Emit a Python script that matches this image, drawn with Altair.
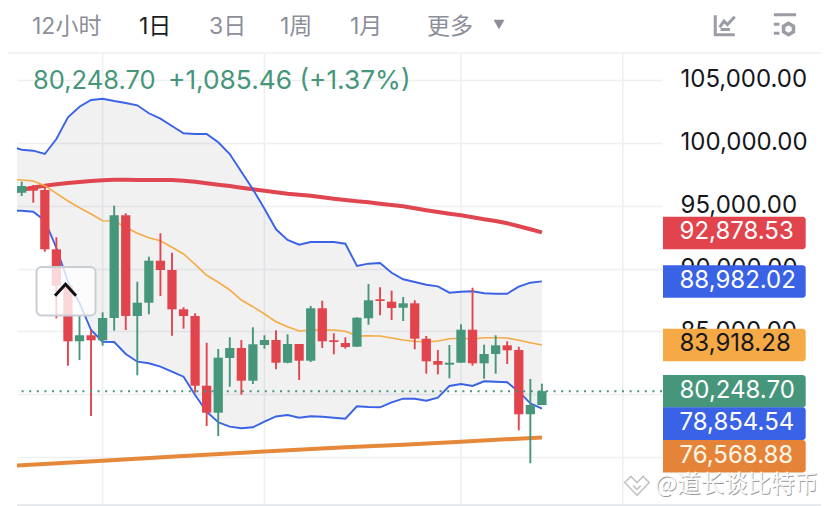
import altair as alt
import pandas as pd

# ---- candles (estimated prices) ----
opens = [96035,96568,96249,91532,88637,84214,84691,84293,86067,94237,86226,87284,90625,89885,86759,86226,80681,78534,82885,83681,81079,83919,84317,82511,83999,82670,86839,84293,84078,83784,86043,87555,87364,86886,87236,84420,82646,82352,82511,85136,82463,83203,83895,83521,78406,79146]
highs = [96910,96647,96512,92487,88692,86250,85112,86521,95001,94396,88955,90944,92805,91262,86918,86441,84102,83601,84532,84317,85327,84691,85089,84770,83999,87022,87443,84850,84532,86123,88772,88509,88239,87738,87475,84635,83521,83919,85566,88477,83943,84691,84214,83784,81215,80841]
lows = [95772,95239,91341,86043,82273,82726,78271,83864,85057,85112,81509,86361,87817,84659,85216,80125,77476,76680,80602,79966,80817,83625,81986,82463,81135,82567,83681,83179,83625,83784,85534,86282,85908,85828,83577,81636,81588,81270,82511,82273,81238,81636,82408,77133,74509,79146]
closes = [96568,96194,91532,88637,84214,84691,84293,86067,94237,86226,87284,90625,89885,86759,86226,80681,78534,82909,83681,81079,83975,84317,82511,83999,82670,86839,84214,84158,83760,86091,87475,87419,86863,87236,84420,82622,82352,82511,85136,82463,83203,83895,83498,78406,79146,80248.70]

# ---- indicator series, index -1 .. 45 ----
upper = [99750,99455,99376,99113,100307,102033,102876,103409,103512,103329,103170,102987,102351,101921,101341,100760,100704,100704,100044,99113,97705,96305,94762,93123,92272,91898,92113,92113,92113,91978,90204,90387,90442,89670,89146,88931,88716,88589,88080,88159,88191,88032,88000,88000,88557,88875,88982.02]
lower = [94579,94603,94523,93807,91636,88955,87260,85112,84182,84158,83203,82591,82463,82193,81795,81398,79942,78613,77770,77420,77293,77372,77818,78231,78351,78136,78247,78215,78136,78056,79043,78987,78963,79361,79647,79647,79488,79727,80658,80817,80658,81032,81000,80952,80204,79281,78854.54]
middle = [97101,97045,96965,96591,95987,95374,94841,94340,93807,93783,93282,92805,92455,92216,91691,91158,90339,89464,88907,88294,87499,86966,86385,85773,85375,85033,85112,85136,85112,85009,84635,84659,84635,84476,84317,84214,84158,84237,84420,84452,84396,84500,84500,84476,84293,84102,83918.28]
ma_red = [96090,96249,96448,96591,96703,96806,96886,96965,97021,97061,97069,97045,97045,97045,97045,96989,96910,96782,96671,96568,96432,96305,96194,96074,95955,95876,95796,95669,95557,95454,95350,95271,95160,95056,94953,94794,94634,94499,94364,94237,94077,93918,93783,93600,93362,93123,92878.53]
ma_orange_idx = [-1,0,7,14,21,28,33,38,45]
ma_orange = [74294,74349,74715,75089,75447,75781,75988,76227,76568.88]

last_price = 80248.70
y_ticks = [75000,80000,85000,90000,95000,100000,105000]
grid_idx = [7,21,38,52]
tabs = ["12小时","1日","3日","1周","1月","更多"]
tag_labels = ["92,878.53","88,982.02","83,918.28","80,248.70","78,854.54","76,568.88"]
headline = ["80,248.70","+1,085.46 (+1.37%)"]
watermark = "@道长谈比特币"

# ---- layout ----
PAD_L, PAD_T = 9, 46
W, H = 645, 451
def px(x): return x - 17
def py(y): return y - 54

GREEN, RED = "#45967a", "#e2444d"
BLUE = "#3a62e6"
GRID = "#eeeff1"
INTER = "Inter, 'Noto Sans CJK SC', sans-serif"
CJK = "'Noto Sans CJK SC', sans-serif"

xs = alt.Scale(domain=[-0.407, 55.39], nice=False, zero=False)
ys = alt.Scale(domain=[71191, 107068], nice=False, zero=False)
yaxis = alt.Axis(
    orient="right", values=y_ticks, title=None, domain=False, ticks=False,
    labelExpr="datum.value < 82000 ? '' : format(datum.value, ',.2f')",
    grid=True, gridColor=GRID, gridWidth=1.5, labelFont=INTER, labelFontSize=24,
    labelColor="#15171c", labelPadding=18, labelAlign="left", labelBaseline="middle",
    labelOverlap=False, labelFlush=False, labelBound=False)
X = lambda f: alt.X(f, type="quantitative", scale=xs, axis=None)
Y = lambda f: alt.Y(f, type="quantitative", scale=ys, axis=yaxis)

n = len(opens)
cd = pd.DataFrame({"i": list(range(n)), "o": opens, "h": highs, "l": lows, "c": closes})
cd["lo"] = cd["i"] - 0.4
cd["hi"] = cd["i"] + 0.4
cd["top"] = cd[["o", "c"]].max(axis=1)
cd["bot"] = cd[["o", "c"]].min(axis=1)
cd["dir"] = ["up" if c >= o else "down" for o, c in zip(opens, closes)]
col = alt.Color("dir:N", scale=alt.Scale(domain=["up", "down"], range=[GREEN, RED]), legend=None)

ln = pd.DataFrame({"i": list(range(-1, n)), "u": upper, "d": lower, "m": middle, "r": ma_red})
mo = pd.DataFrame({"i": ma_orange_idx, "v": ma_orange})
one = pd.DataFrame({"a": [0]})
lastdf = pd.DataFrame({"p": [last_price]})
griddf = pd.DataFrame({"i": grid_idx})

layers = []
layers.append(alt.Chart(griddf).mark_rule(color=GRID, strokeWidth=1.5).encode(x=X("i")))
layers.append(alt.Chart(ln).mark_area(color="#7c7c82", opacity=0.105, clip=True).encode(x=X("i"), y=Y("u"), y2="d:Q"))
layers.append(alt.Chart(mo).mark_line(color="#e5883a", strokeWidth=4, clip=True).encode(x=X("i"), y=Y("v")))
layers.append(alt.Chart(ln).mark_line(color="#e0464f", strokeWidth=4, clip=True).encode(x=X("i"), y=Y("r")))
layers.append(alt.Chart(ln).mark_line(color="#f5ab45", strokeWidth=1.6, clip=True).encode(x=X("i"), y=Y("m")))
layers.append(alt.Chart(ln).mark_line(color=BLUE, strokeWidth=1.9, clip=True).encode(x=X("i"), y=Y("u")))
layers.append(alt.Chart(ln).mark_line(color=BLUE, strokeWidth=1.9, clip=True).encode(x=X("i"), y=Y("d")))
layers.append(alt.Chart(cd).mark_rule(strokeWidth=1.9, clip=True).encode(x=X("i"), y=Y("l"), y2="h:Q", color=col))
layers.append(alt.Chart(cd).mark_rect(clip=True).encode(x=X("lo"), x2="hi:Q", y=Y("bot"), y2="top:Q", color=col))
layers.append(alt.Chart(lastdf).mark_rule(color=GREEN, strokeWidth=2, strokeDash=[2, 5.6]).encode(y=Y("p")))

# collapse button
layers.append(alt.Chart(one).mark_rect(fill="white", fillOpacity=0.78, stroke="#c9cdd4", strokeWidth=2, cornerRadius=5).encode(
    x=alt.value(px(36.5)), x2=alt.value(px(95.5)), y=alt.value(py(267)), y2=alt.value(py(315.5))))
layers.append(alt.Chart(one).mark_point(shape="M-1,0.55L0,-0.55L1,0.55", filled=False, stroke="#111", strokeWidth=3, size=440, opacity=1).encode(
    x=alt.value(px(65.5)), y=alt.value(py(290))))

# price tags
tag_fill = [RED, BLUE, "#f5aa45", GREEN, BLUE, "#e58438"]
tag_text = ["white", "white", "#16181d", "white", "white", "#fff6ea"]
tag_top = [216.7, 265.2, 328.7, 375, 407.3, 440]
for lab, f, t, top in zip(tag_labels, tag_fill, tag_text, tag_top):
    layers.append(alt.Chart(one).mark_rect(fill=f, cornerRadiusTopRight=3, cornerRadiusBottomRight=3).encode(
        x=alt.value(px(663)), x2=alt.value(px(805.7)), y=alt.value(py(top)), y2=alt.value(py(top + 32.6))))
    layers.append(alt.Chart(one).mark_text(text=lab, font=INTER, fontSize=24, color=t, align="left", baseline="middle").encode(
        x=alt.value(px(679.5)), y=alt.value(py(top + 15.5))))

# header
layers.append(alt.Chart(one).mark_rule(color=GRID, strokeWidth=1.5).encode(
    x=alt.value(-9), x2=alt.value(804), y=alt.value(-1)))
tab_x = [32, 139, 209, 280, 350, 427]
for lab, tx in zip(tabs, tab_x):
    active = lab == "1日"
    layers.append(alt.Chart(one).mark_text(text=lab, font=INTER, fontSize=23, color="#1b1d24" if active else "#8c8f9a",
                                           align="left", baseline="middle").encode(x=alt.value(px(tx)), y=alt.value(py(26.5))))
layers.append(alt.Chart(one).mark_point(shape="triangle-down", filled=True, color="#8c8f9a", size=120, opacity=1).encode(
    x=alt.value(px(499)), y=alt.value(py(24.5))))
layers.append(alt.Chart(one).mark_point(shape="M-1,-1V1H1M-0.55,0.25L-0.1,-0.4L0.25,-0.05L1,-0.85M-0.45,0.45H0.5", filled=False, stroke="#9a9ca6",
                                        strokeWidth=3, size=380, opacity=1).encode(x=alt.value(px(725)), y=alt.value(py(25))))
layers.append(alt.Chart(one).mark_point(shape="M-1,-1H1M-1,-0.15H-0.5M-1,0.65H-0.5", filled=False, stroke="#9a9ca6",
                                        strokeWidth=3, size=500, opacity=1).encode(x=alt.value(px(785)), y=alt.value(py(26))))
layers.append(alt.Chart(one).mark_point(shape="M0,-1L0.87,-0.5V0.5L0,1L-0.87,0.5V-0.5Z", filled=False, stroke="#9a9ca6",
                                        strokeWidth=3.5, size=130, opacity=1).encode(x=alt.value(px(788.5)), y=alt.value(py(29))))

# headline
layers.append(alt.Chart(one).mark_text(text=headline[0], font=INTER, fontSize=25.5, color=GREEN, align="left", baseline="middle").encode(
    x=alt.value(px(33)), y=alt.value(py(81))))
layers.append(alt.Chart(one).mark_text(text=headline[1], font=INTER, fontSize=26.3, color=GREEN, align="left", baseline="middle").encode(
    x=alt.value(px(168)), y=alt.value(py(81))))

# watermark
layers.append(alt.Chart(one).mark_text(text=watermark, font=CJK, fontSize=23.5, color="#9a9a9a", align="left", baseline="middle").encode(
    x=alt.value(px(655.8)), y=alt.value(py(485.8))))
layers.append(alt.Chart(one).mark_text(text=watermark, font=CJK, fontSize=23.5, color="#fafafa", align="left", baseline="middle").encode(
    x=alt.value(px(655)), y=alt.value(py(485))))
layers.append(alt.Chart(one).mark_point(shape="M-1,-0.2L-0.5,-0.7L0,-0.2L0.5,-0.7L1,-0.2L0,0.85ZM-0.3,0.05L0,0.35L0.3,0.05", filled=False, stroke="#c4c4c4",
                                        strokeWidth=1.6, size=600, opacity=1).encode(x=alt.value(px(637)), y=alt.value(py(485))))

# bottom edge
layers.append(alt.Chart(one).mark_rule(color="#e4e7ea", strokeWidth=2.5).encode(
    x=alt.value(0), x2=alt.value(804), y=alt.value(py(505.5))))

chart = alt.layer(*layers).resolve_scale(color="independent").properties(
    width=W, height=H,
    autosize=alt.AutoSizeParams(type="none"),
    padding={"left": PAD_L, "top": PAD_T, "right": 159, "bottom": 2},
    background="white",
).configure_view(stroke=None)

chart.save("out.html", embed_options={"renderer": "svg", "actions": False})
